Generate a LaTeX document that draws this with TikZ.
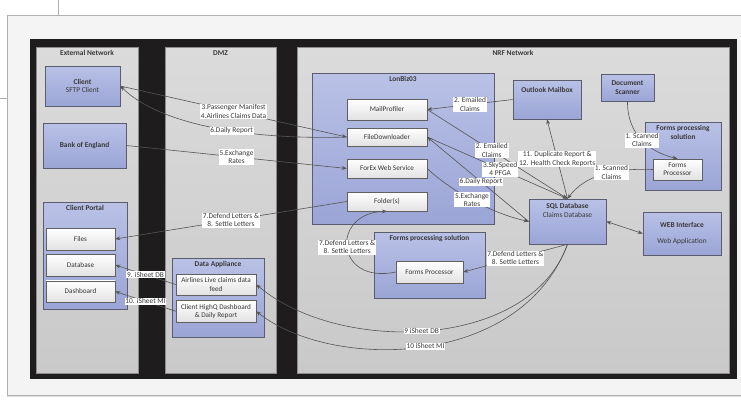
\documentclass[tikz,border=0pt]{standalone}
\usepackage{fontspec}
\setmainfont{Carlito}
\usetikzlibrary{positioning,arrows.meta,shadows}

\definecolor{panelbg}{HTML}{F4F4F4}
\definecolor{panelln}{HTML}{B0B0B0}
\definecolor{blackbg}{HTML}{1F1C1D}
\definecolor{zonetop}{HTML}{DBDBDB}
\definecolor{zonebot}{HTML}{C9C9C9}
\definecolor{zoneln}{HTML}{8C8C8C}
\definecolor{bluetop}{HTML}{B9C1E6}
\definecolor{bluebot}{HTML}{9BA5D6}
\definecolor{boxln}{HTML}{5A5D6E}
\definecolor{whitebot}{HTML}{E2E2E2}
\definecolor{txt}{HTML}{383838}
\definecolor{wire}{HTML}{555555}

\begin{document}
\begin{tikzpicture}[
  x=1pt, y=-1pt,
  font=\fontsize{7.4}{8.8}\selectfont,
  text=txt,
  zone/.style={draw=zoneln, top color=zonetop, bottom color=zonebot, line width=0.5pt},
  bluebox/.style={draw=boxln, top color=bluetop, bottom color=bluebot, line width=0.6pt, align=center,
    drop shadow={shadow xshift=1.3pt, shadow yshift=-1.3pt, fill=black!50}},
  grpbox/.style={bluebox},
  whitebox/.style={draw=gray!75!black, top color=white, bottom color=whitebot, line width=0.5pt, align=center,
    minimum width=80pt, font=\fontsize{7.2}{8.2}\selectfont,
    drop shadow={shadow xshift=1.2pt, shadow yshift=-1.2pt, fill=black!45}},
  ttl/.style={font=\fontsize{7.4}{8.8}\selectfont\bfseries, anchor=north, inner sep=3.3pt, align=center},
  lbl/.style={fill=white, inner sep=0.8pt, align=center, font=\fontsize{7.4}{8.3}\selectfont},
  arr/.style={-{Stealth[length=5pt,width=3.8pt]}, draw=wire, line width=0.6pt},
  arrs/.style={{Stealth[length=5pt,width=3.8pt]}-{Stealth[length=5pt,width=3.8pt]}, draw=wire, line width=0.6pt}
]
\useasboundingbox (0,0) rectangle (741,400);
% ---------------- backdrop ----------------
\draw[panelln] (58,0) -- (58,15);
\draw[panelln] (0,98) -- (7,98);
\fill[panelbg, draw=panelln, drop shadow={shadow xshift=0pt, shadow yshift=-1.5pt, fill=black!25}] (7,15) rectangle (760,395);
\fill[blackbg] (30,39) rectangle (737,379);

% ---------------- zones ----------------
\node[zone, minimum width=102pt, minimum height=326pt, label={[ttl]north:External Network}] (ext) at (87,210) {};
\node[zone, minimum width=111pt, minimum height=326pt, label={[ttl]north:DMZ}] (dmz) at (220.5,210) {};
\node[zone, minimum width=432pt, minimum height=326pt, label={[ttl]north:NRF Network}] (nrf) at (513,210) {};

% ---------------- external network ----------------
\node[bluebox, minimum width=75pt, minimum height=40pt] (client) at (82.5,86) {\textbf{Client}\\SFTP Client};
\node[bluebox, minimum width=83pt, minimum height=45pt] (bank) at (84.5,145.5) {\textbf{Bank of England}};
\node[grpbox, minimum width=84pt, minimum height=107pt, label={[ttl]north:Client Portal}] (portal) at (85,255.5) {};
\node[whitebox, minimum width=69pt, minimum height=21.5pt] (files) at (80.5,239) {Files};
\node[whitebox, minimum width=69pt, minimum height=21.5pt, below=4pt of files] (db) {Database};
\node[whitebox, minimum width=69pt, minimum height=21.5pt, below=4.5pt of db] (dash) {Dashboard};

% ---------------- DMZ ----------------
\node[grpbox, minimum width=92pt, minimum height=79pt, label={[ttl]north:Data Appliance}] (appl) at (218,297.5) {};
\node[whitebox, minimum height=21pt] (feed) at (216,284.5) {Airlines Live claims data\\feed};
\node[whitebox, minimum height=21.5pt, below=5pt of feed] (highq) {Client HighQ Dashboard\\\& Daily Report};

% ---------------- NRF network ----------------
\node[grpbox, minimum width=182pt, minimum height=151pt, label={[ttl]north:LonBiz03}] (lonbiz) at (403,148.5) {};
\node[whitebox, minimum height=21pt] (mail) at (387,109.5) {MailProfiler};
\node[whitebox, minimum height=18pt] (fd) at (387,137) {FileDownloader};
\node[whitebox, minimum height=19pt] (forex) at (387,168.5) {ForEx Web Service};
\node[whitebox, minimum height=19pt] (folder) at (387,201.5) {Folder(s)};

\node[bluebox, minimum width=68pt, minimum height=39pt, label={[ttl, yshift=-4pt]north:Outlook Mailbox}] (outlook) at (547,99.5) {};
\node[bluebox, minimum width=53pt, minimum height=27pt, font=\fontsize{7.4}{8.8}\selectfont\bfseries] (scanner) at (627.5,87.5) {Document\\Scanner};
\node[grpbox, minimum width=76pt, minimum height=68pt, label={[ttl]north:Forms processing\\solution}] (fpsolR) at (683,156) {};
\node[whitebox, minimum width=49pt, minimum height=21pt] (fpr) at (677.5,169.5) {Forms\\Processor};
\node[bluebox, minimum width=77pt, minimum height=45pt, label={[ttl, yshift=-1.5pt]north:SQL Database\\\mdseries Claims Database}] (sql) at (567.5,221.5) {};
\node[bluebox, minimum width=78pt, minimum height=43pt] (web) at (682,233.5) {\textbf{WEB Interface}\\[8pt]Web Application};
\node[grpbox, minimum width=111pt, minimum height=66pt, label={[ttl]north:Forms processing solution}] (fpsolM) at (429.5,265) {};
\node[whitebox, minimum width=67pt, minimum height=22pt] (fpm) at (429.5,272) {Forms Processor};

% ---------------- flows: outside world ----------------
\draw[arr] (client.east) -- node[lbl]{3.Passenger Manifest\\4.Airlines Claims Data} (fd.west);
\draw[arr] (fd.west) .. controls (250,140) and (160,125) .. node[lbl, pos=.42]{6.Daily Report} (client.east);
\draw[arr] (bank.east) -- node[lbl]{5.Exchange\\Rates} (forex.west);
\draw[arr] (folder.west) -- node[lbl]{7.Defend Letters \&\\8. Settle Letters} (files.east);
\draw[arr] (feed.west) -- node[lbl]{9. iSheet DB} (db.east);
\draw[arr] (highq.west) -- node[lbl]{10. iSheet MI} (dash.east);

% ---------------- flows: NRF ----------------
\draw[arr] (outlook.west) -- node[lbl]{2. Emailed\\Claims} (mail.east);
\draw[arr] (mail.east) -- node[lbl, pos=.46]{2. Emailed\\Claims} (sql.north);
\draw[arr] (fd.east) -- node[lbl, pos=.52]{3.SkySpeed\\4 PFGA} (sql.north);
\draw[arr] (sql.west) -- node[lbl, pos=.47]{6.Daily Report} (fd.east);
\draw[arr] (forex.east) .. controls (450,190) and (490,213) .. node[lbl]{5.Exchange\\Rates} (sql.west);
\draw[arr] (fpr.west) .. controls (615,168) and (585,175) .. node[lbl, pos=.4]{1. Scanned\\Claims} (sql.north);
\draw[arr] (sql.north) -- node[lbl]{11. Duplicate Report \&\\12. Health Check Reports} (outlook.south);
\draw[arr] (scanner.south) .. controls (627,135) and (650,152) .. node[lbl]{1. Scanned\\Claims} (fpr.north);
\draw[arrs] (sql.east) -- (web.west);
\draw[arr] (sql.south) -- node[lbl]{7.Defend Letters \&\\8. Settle Letters} (fpm.east);
\draw[arr] (fpm.west) .. controls (335,285) and (330,213) .. node[lbl]{7.Defend Letters \&\\8. Settle Letters} (folder.south);
\draw[arr] (sql.south) .. controls (530,350) and (340,355) .. node[lbl, pos=.52]{9 iSheet DB} (feed.east);
\draw[arr] (sql.south) .. controls (520,370) and (330,370) .. node[lbl, pos=.49]{10 iSheet MI} (highq.east);
\end{tikzpicture}
\end{document}
